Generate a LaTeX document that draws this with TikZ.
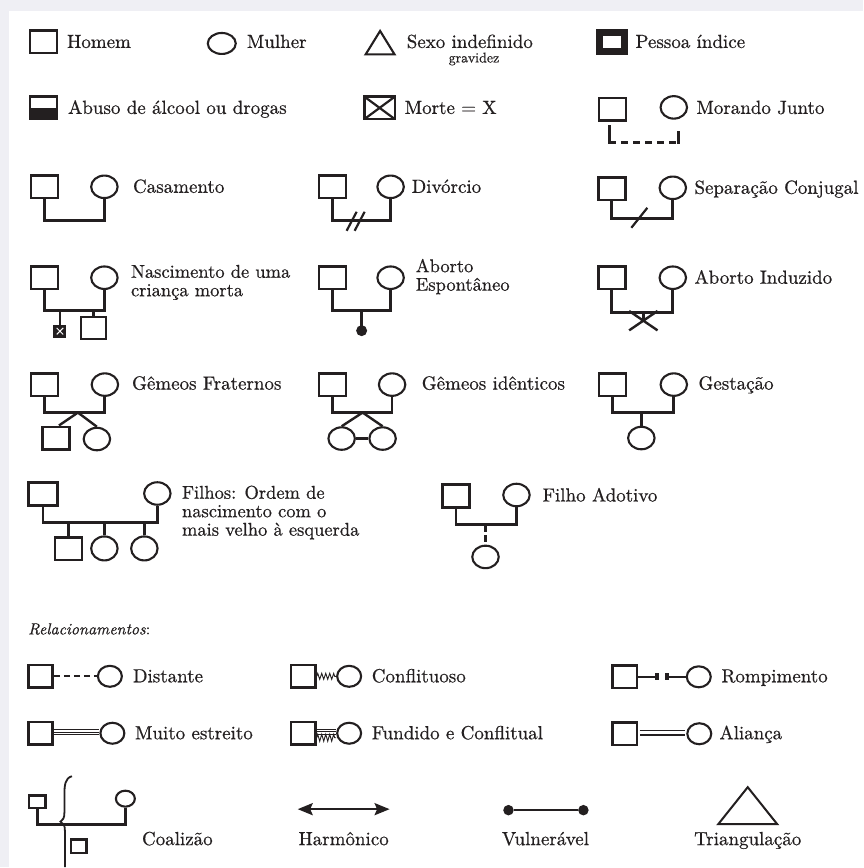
\documentclass[tikz,border=0pt]{standalone}
\usepackage{fontspec}
\setmainfont{lmroman10-regular.otf}[ItalicFont=lmroman10-italic.otf, BoldFont=lmroman10-bold.otf, FakeBold=0.6]
\usepackage{tikz}
\usetikzlibrary{calc}
\usetikzlibrary{shapes.geometric}
\usetikzlibrary{shapes.misc}
\usetikzlibrary{arrows.meta}
\usetikzlibrary{decorations.pathmorphing}

\definecolor{ink}{RGB}{35,31,32}
\definecolor{paper}{RGB}{239,239,244}

\begin{document}
\begin{tikzpicture}[x=1pt, y=-1pt,
        every node/.style={text=ink},
        mannode/.style={rectangle, draw=ink, line width=2.6pt, minimum width=27pt, minimum height=22.5pt, inner sep=0pt},
        womannode/.style={ellipse, draw=ink, line width=2.1pt, minimum width=26.5pt, minimum height=22.5pt, inner sep=0pt},
        dotnode/.style={circle, fill=ink, minimum size=10.5pt, inner sep=0pt},
        labelnode/.style={anchor=base west, inner sep=0pt, font=\fontsize{19}{19}\selectfont},
        multinode/.style={anchor=north west, align=left, inner sep=0pt, font=\fontsize{18.5}{18.5}\selectfont},
        smallnode/.style={anchor=base west, inner sep=0pt, font=\fontsize{14}{14}\selectfont},
        famline/.style={draw=ink, line width=2.8pt},
        relline/.style={draw=ink, line width=2.2pt},
        thinline/.style={draw=ink, line width=0.9pt}]
        \fill[paper] (0,0) rectangle (864,868);
        \fill[white] (9,11) rectangle (864,868);

        % simbolos
        \node[mannode] (homem) at (43.5,42) {};
        \node[labelnode] (homemtxt) at (67,48) {Homem};
        \node[womannode, minimum width=28pt, minimum height=21pt] (mulher) at (222,43.5) {};
        \node[labelnode] (mulhertxt) at (247,48) {Mulher};
        \draw[ink, line width=2.1pt] (366,54.5) -- (380.5,31) -- (395,54.5) -- cycle;
        \node[labelnode] (sexotxt) at (407,48) {Sexo indefinido};
        \node[smallnode] (gravtxt) at (449,62.5) {gravidez};
        \node[mannode, line width=7pt, minimum width=25pt, minimum height=19pt] (indice) at (613,42) {};
        \node[labelnode] (indicetxt) at (636,48) {Pessoa índice};

        \node[mannode, path picture={\fill[ink] (path picture bounding box.west) rectangle (path picture bounding box.south east);}] (abuso) at (43.5,108) {};
        \node[labelnode] (abusotxt) at (68,114) {Abuso de álcool ou drogas};
        \node[mannode, minimum width=30.5pt, path picture={\draw[ink, line width=2.2pt] (path picture bounding box.north west) -- (path picture bounding box.south east) (path picture bounding box.north east) -- (path picture bounding box.south west);}] (morte) at (380,108) {};
        \node[labelnode] (mortetxt) at (405,114) {Morte = X};
        \node[mannode] (morandoh) at (613,109.5) {};
        \node[womannode] (morandom) at (674.5,107.5) {};
        \node[labelnode] (morandotxt) at (697,114) {Morando Junto};
        \coordinate (morandol) at (610,143);
        \coordinate (morandor) at (679,143);
        \draw[famline, line cap=rect] ([shift={(-3,4)}]morandoh.south) -- (morandol);
        \draw[famline, dash pattern=on 7pt off 5pt] (morandol) -- (morandor);
        \draw[famline, line cap=rect] (morandor) -- ([shift={(4.5,13)}]morandom.south);

        % casais
        \node[mannode] (casah) at (44.5,187) {};
        \node[womannode] (casam) at (104.5,187) {};
        \node[labelnode] (casatxt) at (133,193) {Casamento};
        \draw[famline] (casah.south) -- ++(0,21) -| (casam.south);

        \node[mannode] (divh) at (333,187) {};
        \node[womannode] (divm) at (391,187) {};
        \node[labelnode] (divtxt) at (412,193) {Divórcio};
        \draw[famline] (divh.south) -- ++(0,21) -| (divm.south);
        \draw[famline, line width=2.2pt] (347,231) -- (357,212) (355,231) -- (365,212);

        \node[mannode] (seph) at (612.5,189) {};
        \node[womannode] (sepm) at (673.5,188) {};
        \node[labelnode] (septxt) at (695,194) {Separação Conjugal};
        \draw[famline] (seph.south) -- ++(0,17.5) -| (sepm.south);
        \draw[famline, line width=2.2pt] (632,228) -- (648,208);

        % nascimentos e abortos
        \node[mannode] (nash) at (44.5,278) {};
        \node[womannode] (nasm) at (104.5,278) {};
        \node[multinode] (nastxt) at (131,265) {Nascimento de uma\\criança morta};
        \draw[famline] (nash.south) -- ++(0,20.5) coordinate (nasl) -| (nasm.south);
        \node[mannode, fill=ink, line width=1.5pt, minimum width=11.5pt, minimum height=11.5pt, path picture={\draw[white, line width=1pt] ([shift={(2.5,2.5)}]path picture bounding box.north west) -- ([shift={(-2.5,-2.5)}]path picture bounding box.south east) ([shift={(-2.5,2.5)}]path picture bounding box.north east) -- ([shift={(2.5,-2.5)}]path picture bounding box.south west);}] (nasc1) at (60,331.5) {};
        \node[mannode, line width=2pt, minimum width=25pt, minimum height=22pt] (nasc2) at (93.5,328.5) {};
        \draw[famline] (nasc1.north) -- (nasc1.north |- nasl);
        \draw[famline] (nasc2.north) -- (nasc2.north |- nasl);

        \node[mannode] (abeh) at (333,278) {};
        \node[womannode] (abem) at (391,278) {};
        \node[multinode] (abetxt) at (416,259) {Aborto\\Espontâneo};
        \draw[famline] (abeh.south) -- ++(0,20.5) coordinate (abel) -| (abem.south);
        \node[dotnode, minimum size=11pt] (abedot) at (362,331) {};
        \draw[famline] (abedot.center) -- (abedot |- abel);

        \node[mannode] (abih) at (612.5,278) {};
        \node[womannode] (abim) at (673.5,278) {};
        \node[labelnode] (abitxt) at (695,284) {Aborto Induzido};
        \draw[famline] (abih.south) -- ++(0,22) coordinate (abil) -| (abim.south);
        \node[cross out, draw=ink, line width=2.4pt, minimum width=26pt, minimum height=17pt, inner sep=0pt] (abix) at (644,321) {};
        \draw[famline] (abix.center) -- (abix.center |- abil);

        % gemeos e gestacao
        \node[mannode] (gfh) at (44.5,385) {};
        \node[womannode] (gfm) at (105,385) {};
        \node[labelnode] (gftxt) at (132,390) {Gêmeos Fraternos};
        \draw[famline] (gfh.south) -- ++(0,15.5) coordinate (gfl) -| (gfm.south);
        \coordinate (gfa) at (78,413);
        \node[mannode] (gfc1) at (56,438.5) {};
        \node[womannode] (gfc2) at (97,439.5) {};
        \draw[famline, line width=2.4pt] ([xshift=3pt]gfc1.north) -- (gfa) -- (gfc2.north);

        \node[mannode] (gih) at (333,385) {};
        \node[womannode] (gim) at (392.5,385) {};
        \node[labelnode] (gitxt) at (422,390) {Gêmeos idênticos};
        \draw[famline] (gih.south) -- ++(0,15.5) coordinate (gil) -| (gim.south);
        \coordinate (gia) at (363,413);
        \node[womannode] (gic1) at (342,439) {};
        \node[womannode] (gic2) at (383,439) {};
        \draw[famline, line width=2.4pt] (gic1.north) -- (gia) -- (gic2.north);
        \draw[famline, line width=2.4pt] (gic1.east) -- (gic2.west);

        \node[mannode] (gesh) at (613,385) {};
        \node[womannode] (gesm) at (674.5,385) {};
        \node[labelnode] (gestxt) at (699,390) {Gestação};
        \draw[famline] (gesh.south) -- ++(0,15.5) coordinate (gesl) -| (gesm.south);
        \node[womannode] (gesc) at (642,438.5) {};
        \draw[famline] (gesc.north) -- (gesc.north |- gesl);

        % filhos
        \node[mannode, minimum width=29pt] (filh) at (43,494.5) {};
        \node[womannode] (film) at (157.5,494) {};
        \node[multinode] (filtxt) at (182,486) {Filhos: Ordem de\\nascimento com o\\mais velho à esquerda};
        \draw[famline] (filh.south) -- ++(0,16) coordinate (filhl) -| (film.south);
        \node[mannode] (filc1) at (68.5,549.5) {};
        \node[womannode, minimum height=24pt] (filc2) at (104.5,549) {};
        \node[womannode, minimum height=24pt] (filc3) at (144.5,549) {};
        \foreach \c in {filc1,filc2,filc3}
            \draw[famline] (\c.north) -- (\c.north |- filhl);

        \node[mannode] (adoh) at (456.5,496.5) {};
        \node[womannode] (adom) at (517,495.5) {};
        \node[labelnode] (adotxt) at (543,502) {Filho Adotivo};
        \draw[famline] (adoh.south) -- ++(0,16) coordinate (adol) -| (adom.south);
        \node[womannode] (adoc) at (486,557.5) {};
        \draw[famline, line width=3.2pt, dash pattern=on 7pt off 4pt] (adoc.north |- adol) -- (adoc.north);

        % relacionamentos
        \node[anchor=base west, inner sep=0pt, font=\fontsize{16}{16}\selectfont] (reltxt) at (28,635) {\textit{Relacionamentos}:};

        \node[mannode, minimum width=24.5pt] (dish) at (40.5,677) {};
        \node[womannode, minimum width=24pt, minimum height=21pt] (dism) at (110,677) {};
        \node[labelnode] (distxt) at (133,683) {Distante};
        \draw[relline, dash pattern=on 6pt off 4pt] (dish.east) -- (dism.west);

        \node[mannode, minimum width=24.5pt] (confh) at (303.5,677) {};
        \node[womannode, minimum width=24pt, minimum height=21pt] (confm) at (349.5,677) {};
        \node[labelnode] (conftxt) at (372,683) {Conflituoso};
        \draw[thinline, decorate, decoration={zigzag, segment length=4pt, amplitude=3pt}] (confh.east) -- (confm.west);

        \node[mannode, minimum width=24.5pt] (romph) at (625.5,677.5) {};
        \node[womannode, minimum width=24pt, minimum height=21pt] (rompm) at (699.5,677.5) {};
        \node[labelnode] (romptxt) at (722,683) {Rompimento};
        \node[rectangle, fill=ink, minimum width=4pt, minimum height=7pt, inner sep=0pt] (rompa) at (658,677.5) {};
        \node[rectangle, fill=ink, minimum width=3.5pt, minimum height=7pt, inner sep=0pt] (rompb) at (667.5,677.5) {};
        \draw[relline] (romph.east) -- (rompa);
        \draw[relline] (rompb) -- (rompm.west);

        \node[mannode, minimum width=24.5pt] (muith) at (40.5,734) {};
        \node[womannode, minimum width=24pt, minimum height=21pt] (muitm) at (112.5,734) {};
        \node[labelnode] (muittxt) at (135,740) {Muito estreito};
        \foreach \s in {-1.6,1,3.6}
            \draw[thinline] ([yshift=\s pt]muith.east) -- ([yshift=\s pt]muitm.west);

        \node[mannode, minimum width=24.5pt] (fundh) at (303.5,734) {};
        \node[womannode, minimum width=24pt, minimum height=21pt] (fundm) at (349.5,734) {};
        \node[labelnode] (fundtxt) at (372,740) {Fundido e Conflitual};
        \foreach \s in {-1,1.5,4}
            \draw[thinline] ([yshift=\s pt]fundh.east) -- ([yshift=\s pt]fundm.west);
        \draw[thinline, decorate, decoration={zigzag, segment length=4pt, amplitude=3.5pt}] ([yshift=-4.5pt]fundh.east) -- ([yshift=-4.5pt]fundm.west);

        \node[mannode, minimum width=24.5pt] (aliah) at (625.5,734.5) {};
        \node[womannode, minimum width=24pt, minimum height=21pt] (aliam) at (700,734.5) {};
        \node[labelnode] (aliatxt) at (720,740) {Aliança};
        \draw[ink, line width=1.3pt, double=white, double distance=3.2pt, shorten <=1.3pt, shorten >=1pt] ([yshift=1pt]aliah.east) -- ([yshift=1pt]aliam.west);

        % coalizao, harmonico, vulneravel, triangulacao
        \node[mannode, line width=2.5pt, minimum width=16.5pt, minimum height=12.5pt] (coah) at (37.5,802.5) {};
        \node[womannode, minimum width=19pt, minimum height=16pt] (coam) at (125.5,799.5) {};
        \draw[famline] (coah.south) -- ++(0,15) -| (coam.south);
        \node[mannode, line width=2.5pt, minimum width=15.5pt, minimum height=13.5pt] (coab) at (79,847) {};
        \draw[ink, line width=1.8pt] (72,777) .. controls (65,779) and (64.5,786) .. (64.5,796) -- (64.5,813) .. controls (64.5,819) and (63,821) .. (60.5,822.5) .. controls (63.5,824) and (65,826) .. (65,832) -- (65,868);
        \node[labelnode] (coatxt) at (142,846) {Coalizão};

        \coordinate (harma) at (298,810);
        \coordinate (harmb) at (390,810);
        \draw[ink, line width=2.5pt, {Stealth[length=15pt, width=12pt, inset=2.5pt]}-{Stealth[length=15pt, width=12pt, inset=2.5pt]}] (harma) -- (harmb);
        \node[labelnode, anchor=base] (harmtxt) at (344,846) {Harmônico};

        \node[dotnode] (vula) at (509,811) {};
        \node[dotnode] (vulb) at (584,811) {};
        \draw[ink, line width=2.5pt] (vula) -- (vulb);
        \node[labelnode, anchor=base] (vultxt) at (546,846) {Vulnerável};

        \draw[ink, line width=2pt] (719,825) -- (748.5,788) -- (778,825) -- cycle;
        \node[labelnode, anchor=base] (tritxt) at (748.5,846) {Triangulação};
    \end{tikzpicture}
\end{document}
